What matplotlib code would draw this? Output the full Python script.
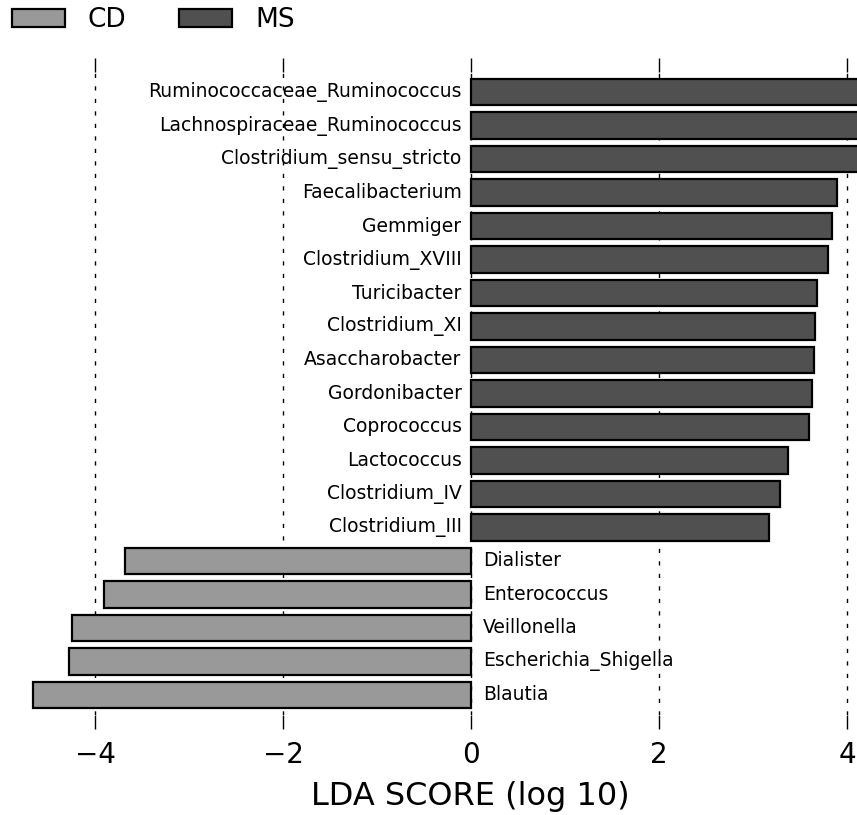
import matplotlib
matplotlib.use("Agg")
import matplotlib.pyplot as plt
import numpy as np

# taxa from bottom to top
taxa = ["Blautia", "Escherichia_Shigella", "Veillonella", "Enterococcus", "Dialister",
        "Clostridium_III", "Clostridium_IV", "Lactococcus", "Coprococcus", "Gordonibacter",
        "Asaccharobacter", "Clostridium_XI", "Turicibacter", "Clostridium_XVIII", "Gemmiger",
        "Faecalibacterium", "Clostridium_sensu_stricto", "Lachnospiraceae_Ruminococcus",
        "Ruminococcaceae_Ruminococcus"]
lda = [-4.66, -4.28, -4.24, -3.90, -3.68,
       3.17, 3.29, 3.37, 3.60, 3.63,
       3.65, 3.66, 3.68, 3.80, 3.84,
       3.89, 4.30, 4.40, 4.50]
groups = ["CD", "MS"]
group_colors = {"CD": "#999999", "MS": "#505050"}

fig = plt.figure(figsize=(8.57, 8.15), dpi=100)
ax = fig.add_axes([0.0, 0.1227, 1.0, 0.789])

bars = {}
for i, (name, val) in enumerate(zip(taxa, lda)):
    g = "MS" if val > 0 else "CD"
    b = ax.barh(i, val, height=0.8, color=group_colors[g], edgecolor="black",
                linewidth=1.6, zorder=2)
    bars[g] = b
    if val > 0:
        ax.text(-0.1, i, name, ha="right", va="center", fontsize=13.5)
    else:
        ax.text(0.13, i, name, ha="left", va="center", fontsize=13.5)

ax.set_xlim(-5.01, 4.106)
ax.set_ylim(-0.6, 18.6)
ax.set_yticks([])
ax.set_xticks([-4, -2, 0, 2, 4])
ax.set_xticklabels(["\u22124", "\u22122", "0", "2", "4"])
ax.tick_params(axis="x", which="both", top=True, bottom=True, direction="out",
               length=10, width=1, labelsize=20, pad=9)
for s in ax.spines.values():
    s.set_visible(False)
ax.xaxis.grid(True, color="black", linestyle=(0, (3, 6)), linewidth=1, zorder=1)
ax.set_xlabel("LDA SCORE (log 10)", fontsize=23)
ax.xaxis.set_label_coords(470.5 / 857, -0.103)

fig.legend([bars["CD"], bars["MS"]], groups, loc="center left",
           bbox_to_anchor=(12 / 857, 1 - 20 / 815), ncol=2, frameon=False,
           fontsize=19, borderpad=0, borderaxespad=0, handlelength=2.0,
           handleheight=0.7, handletextpad=0.87, columnspacing=2.0)

fig.savefig("out.png", dpi=100)
